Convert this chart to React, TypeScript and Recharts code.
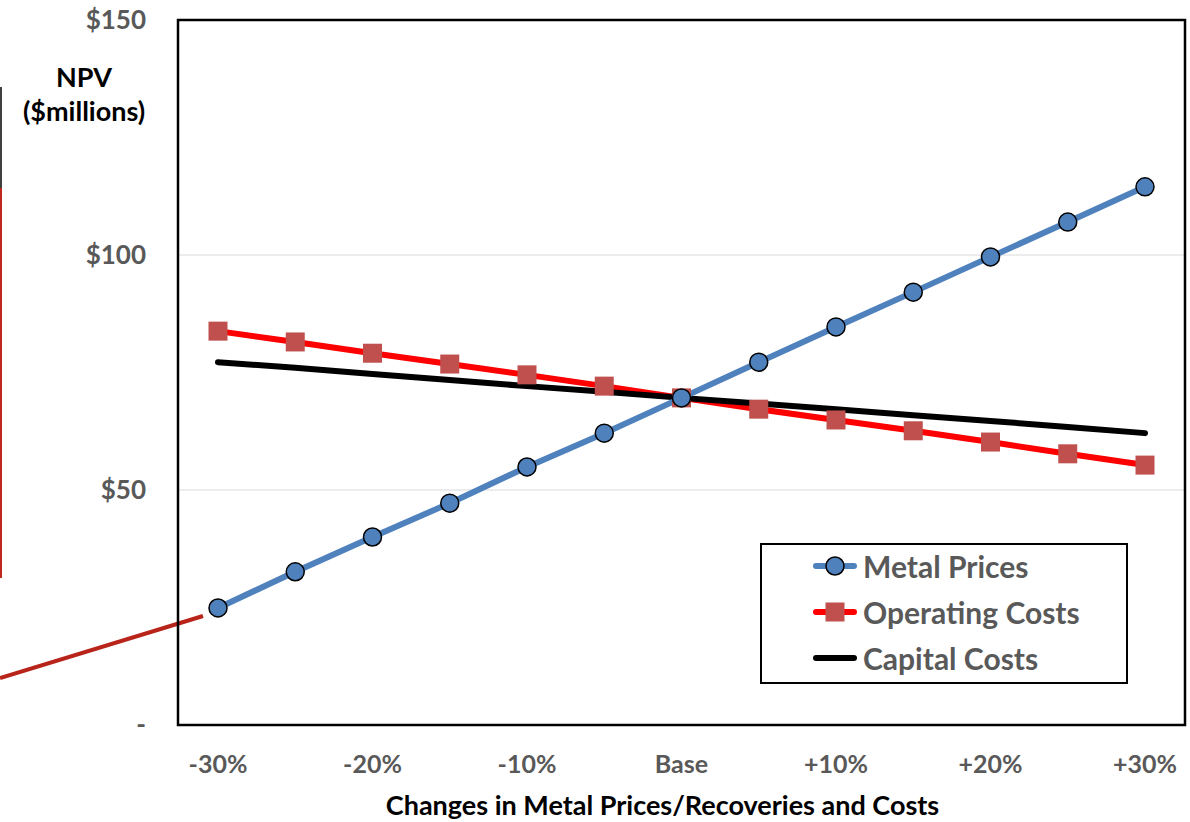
import React from 'react';
import * as R from 'recharts';
import { LineChart, Line, XAxis, YAxis, CartesianGrid, Legend } from 'recharts';

const changes = ['-30%', '-25%', '-20%', '-15%', '-10%', '-5%', 'Base', '+5%', '+10%', '+15%', '+20%', '+25%', '+30%'];
const metalPrices = [24.9, 32.6, 40.0, 47.2, 54.9, 62.1, 69.6, 77.2, 84.7, 92.1, 99.6, 107.0, 114.5];
const operatingCosts = [83.8, 81.5, 79.1, 76.8, 74.5, 72.1, 69.6, 67.2, 64.9, 62.6, 60.2, 57.7, 55.3];
const capitalCosts = [77.2, 76.0, 74.7, 73.4, 72.1, 70.9, 69.6, 68.4, 67.2, 65.9, 64.7, 63.4, 62.1];
const yTicks = [0, 50, 100, 150];

const data = changes.map((c, i) => ({
  change: c,
  metal: metalPrices[i],
  operating: operatingCosts[i],
  capital: capitalCosts[i],
}));

const FONT = 'Lato, "Open Sans", sans-serif';
const BLUE = '#4f81bd';
const RED = '#ff0000';
const SQUARE = '#c0504d';

const usePlotArea: () => any = (R as any).usePlotArea;

// black frame round the plot area
const PlotBorder = () => {
  const area = usePlotArea();
  if (!area) return null;
  return (
    <rect x={area.x} y={area.y} width={area.width} height={area.height} fill="none" stroke="#000" strokeWidth={2.5} />
  );
};

const SquareDot = (props: any) => {
  const { cx, cy, index } = props;
  if (cx == null || cy == null) return null;
  return <rect key={`sq-${index}`} x={cx - 9.5} y={cy - 9.5} width={19} height={19} fill={SQUARE} />;
};

const legendItems = [
  { name: 'Metal Prices', kind: 'circle' },
  { name: 'Operating Costs', kind: 'square' },
  { name: 'Capital Costs', kind: 'line' },
];

const LegendBox = () => (
  <div
    style={{
      width: 368,
      height: 141,
      boxSizing: 'border-box',
      border: '2px solid #000',
      background: '#fff',
      paddingLeft: 51,
    }}
  >
    <div style={{ position: 'relative', top: -2 }}>
      {legendItems.map((it) => (
        <div key={it.name} style={{ display: 'flex', alignItems: 'center', height: 46 }}>
          <svg width={44} height={24} style={{ marginRight: 6 }}>
            <line
              x1={3}
              y1={12}
              x2={41}
              y2={12}
              stroke={it.kind === 'circle' ? BLUE : it.kind === 'square' ? RED : '#000'}
              strokeWidth={6}
              strokeLinecap="round"
            />
            {it.kind === 'circle' && <circle cx={22} cy={12} r={9} fill={BLUE} stroke="#000" strokeWidth={1.5} />}
            {it.kind === 'square' && <rect x={12.5} y={2.5} width={19} height={19} fill={SQUARE} />}
          </svg>
          <span style={{ fontFamily: FONT, fontWeight: 700, fontSize: 30, color: '#595959' }}>{it.name}</span>
        </div>
      ))}
    </div>
  </div>
);

export default function App() {
  return (
    <div style={{ position: 'absolute', left: 0, top: 0, width: 1190, height: 822, background: '#fff', overflow: 'hidden' }}>
      {/* leftovers from the slide this chart was cut out of */}
      <svg width={1190} height={822} style={{ position: 'absolute', left: 0, top: 0 }}>
        <line x1={1} y1={87} x2={1} y2={188} stroke="#404040" strokeWidth={2} />
        <line x1={1} y1={188} x2={1} y2={578} stroke="#c0281c" strokeWidth={2} />
        <line x1={0} y1={678} x2={203} y2={616} stroke="#b8231a" strokeWidth={4} />
      </svg>
      <div
        style={{
          position: 'absolute',
          left: 16,
          top: 60,
          width: 136,
          textAlign: 'center',
          fontFamily: FONT,
          fontWeight: 700,
          fontSize: 27,
          lineHeight: '34px',
          color: '#000',
        }}
      >
        NPV
        <br />
        ($millions)
      </div>
      <div
        style={{
          position: 'absolute',
          left: 178,
          top: 788,
          width: 1007,
          marginLeft: -19,
          textAlign: 'center',
          fontFamily: FONT,
          fontWeight: 700,
          fontSize: 27,
          lineHeight: '34px',
          color: '#000',
        }}
      >
        Changes in Metal Prices/Recoveries and Costs
      </div>
      <div style={{ position: 'absolute', left: 0, top: 0 }}>
        <LineChart width={1190} height={822} data={data} margin={{ top: 20, right: 5, left: 0, bottom: 0 }}>
          <CartesianGrid vertical={false} stroke="#d9d9d9" strokeWidth={1} />
          <XAxis
            dataKey="change"
            height={97}
            interval={1}
            padding={{ left: 40, right: 40 }}
            axisLine={false}
            tickLine={false}
            tickSize={0}
            tickMargin={30}
            tick={{ fill: '#595959', fontFamily: FONT, fontWeight: 700, fontSize: 25 }}
          />
          <YAxis
            width={178}
            domain={[0, 150]}
            ticks={yTicks}
            axisLine={false}
            tickLine={false}
            tickSize={0}
            tickMargin={32}
            tickFormatter={(v: number) => (v === 0 ? '-' : `$${v}`)}
            tick={{ fill: '#595959', fontFamily: FONT, fontWeight: 700, fontSize: 26 }}
          />
          <PlotBorder />
          <Line
            dataKey="operating"
            name="Operating Costs"
            stroke={RED}
            strokeWidth={6}
            dot={SquareDot}
            isAnimationActive={false}
          />
          <Line
            dataKey="capital"
            name="Capital Costs"
            stroke="#000"
            strokeWidth={6}
            strokeLinecap="round"
            dot={false}
            isAnimationActive={false}
          />
          <Line
            dataKey="metal"
            name="Metal Prices"
            stroke={BLUE}
            strokeWidth={6}
            dot={{ r: 9, fill: BLUE, stroke: '#000', strokeWidth: 1.5 }}
            isAnimationActive={false}
          />
          <Legend
            layout="vertical"
            align="center"
            verticalAlign="middle"
            wrapperStyle={{ left: 760, top: 543, width: 368 }}
            content={() => <LegendBox />}
          />
        </LineChart>
      </div>
    </div>
  );
}
